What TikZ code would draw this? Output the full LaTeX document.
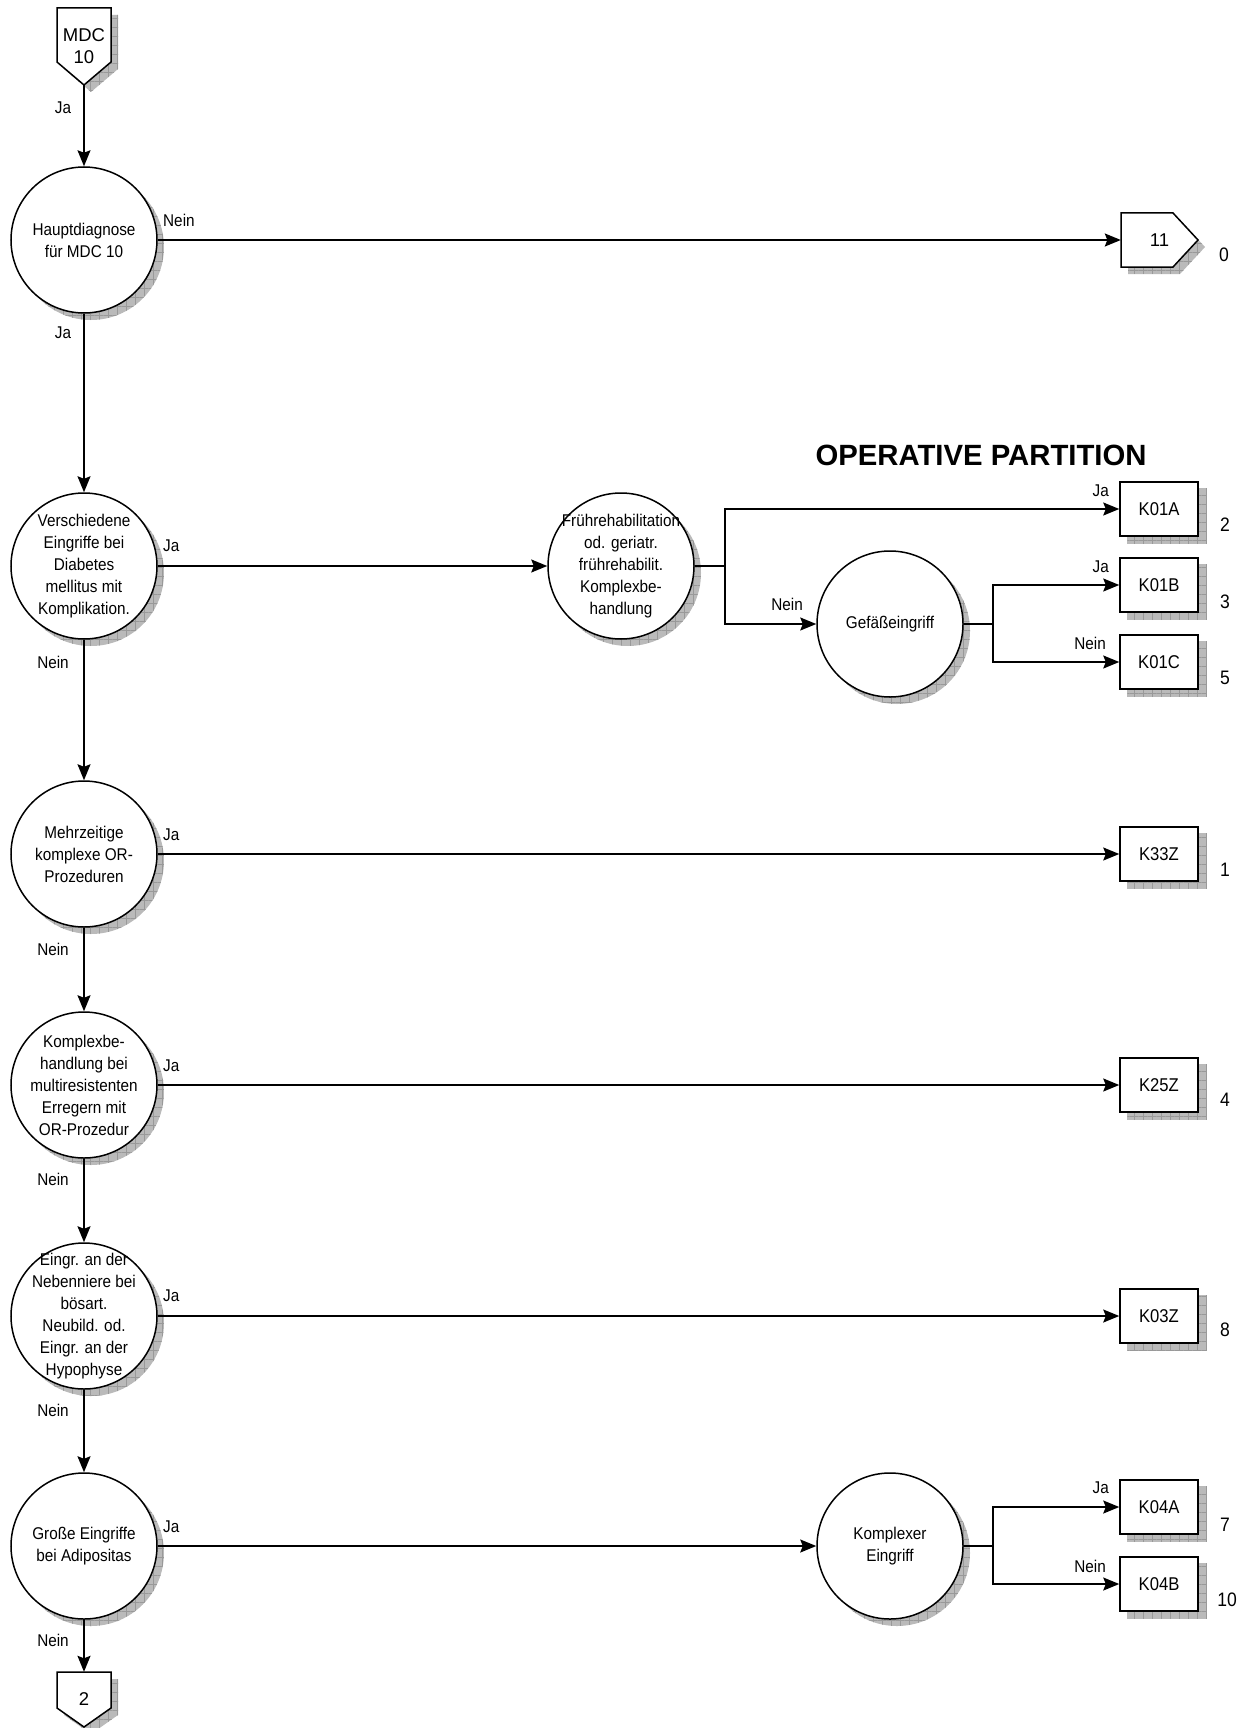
\documentclass[tikz,border=0pt]{standalone}
\usepackage{fontspec}
\setmainfont{Liberation Sans}[FakeStretch=0.9]
\newfontfamily\widefont{Liberation Sans}
\usetikzlibrary{arrows.meta,patterns.meta,backgrounds}
\begin{document}
\begin{tikzpicture}[x=1pt,y=-1pt,
  dec/.style={circle, draw, line width=1.5pt, fill=white, minimum size=146pt, inner sep=0pt},
  ctext/.style={align=center, font=\fontsize{17}{22}\selectfont, inner sep=0pt},
  leaf/.style={rectangle, draw, line width=1.5pt, fill=white, minimum width=78pt, minimum height=54pt, inner sep=0pt, font=\fontsize{18.5}{22}\selectfont},
  ptext/.style={align=center, inner sep=0pt, font=\widefont\fontsize{18.5}{22}\selectfont},
  pent/.style={draw, line width=1.5pt, fill=white, line join=miter},
  lbl/.style={font=\fontsize{17}{20}\selectfont, inner sep=0pt},
  num/.style={font=\fontsize{19.5}{22}\selectfont, inner sep=0pt},
  conn/.style={line width=1.6pt, -{Stealth[length=16pt,width=13pt,inset=2.5pt]}},
  plain/.style={line width=1.6pt},
  shad/.style={fill=black!27, postaction={pattern={Hatch[distance=9pt,angle=0,line width=0.6pt]}, pattern color=black!40}},
]
\useasboundingbox (0,0) rectangle (1250,1728);

% ---------- pentagon shapes (off-page connectors)
\draw[pent] (57,8) -- (111,8) -- (111,62) -- (84,85) -- (57,62) -- cycle;
\node[ptext, minimum width=54pt, minimum height=77pt] (mdc) at (84,46.5) {MDC\\10};

\draw[pent] (1121,213) -- (1173,213) -- (1198,240) -- (1173,267) -- (1121,267) -- cycle;
\node[ptext, minimum width=77pt, minimum height=54pt] (p11) at (1159.5,240) {11};

\draw[pent] (57,1672) -- (111,1672) -- (111,1708) -- (84,1727) -- (57,1708) -- cycle;
\node[ptext, minimum width=54pt, minimum height=55pt] (p2) at (84,1699.5) {2};

% ---------- decision circles
\node[dec] (c1) at (84,240) {};
\node[ctext] (c1t) at (c1) {Hauptdiagnose\\für MDC 10};
\node[dec] (c2) at (84,566) {};
\node[ctext] (c2t) at (c2) {Verschiedene\\Eingriffe bei\\Diabetes\\mellitus mit\\Komplikation.};
\node[dec] (c3) at (84,854) {};
\node[ctext] (c3t) at (c3) {Mehrzeitige\\komplexe OR-\\Prozeduren};
\node[dec] (c4) at (84,1085) {};
\node[ctext] (c4t) at (c4) {Komplexbe-\\handlung bei\\multiresistenten\\Erregern mit\\OR-Prozedur};
\node[dec] (c5) at (84,1316) {};
\node[ctext] (c5t) at (c5) {Eingr. an der\\Nebenniere bei\\bösart.\\Neubild. od.\\Eingr. an der\\Hypophyse};
\node[dec] (c6) at (84,1546) {};
\node[ctext] (c6t) at (c6) {Große Eingriffe\\bei Adipositas};
\node[dec] (fr) at (621,566) {};
\node[ctext] (frt) at (fr) {Frührehabilitation\\od. geriatr.\\frührehabilit.\\Komplexbe-\\handlung};
\node[dec] (gf) at (890,624) {};
\node[ctext] (gft) at (gf) {Gefäßeingriff};
\node[dec] (ke) at (890,1546) {};
\node[ctext] (ket) at (ke) {Komplexer\\Eingriff};

% ---------- leaves
\node[leaf] (k01a) at (1159,509) {K01A};
\node[leaf] (k01b) at (1159,585) {K01B};
\node[leaf] (k01c) at (1159,662) {K01C};
\node[leaf] (k33z) at (1159,854) {K33Z};
\node[leaf] (k25z) at (1159,1085) {K25Z};
\node[leaf] (k03z) at (1159,1316) {K03Z};
\node[leaf] (k04a) at (1159,1507) {K04A};
\node[leaf] (k04b) at (1159,1584) {K04B};

% ---------- shadows
\begin{scope}[on background layer]
  \foreach \n in {c1,c2,c3,c4,c5,c6,fr,gf,ke}
    \fill[shad] ([shift={(7pt,-7pt)}]\n.center) circle[radius=73pt];
  \foreach \n in {k01a,k01b,k01c,k33z,k25z,k03z,k04a,k04b}
    \fill[shad] ([shift={(8pt,-7pt)}]\n.south west) rectangle ([shift={(8pt,-7pt)}]\n.north east);
  \fill[shad, shift={(7pt,-7pt)}] (57,8) -- (111,8) -- (111,62) -- (84,85) -- (57,62) -- cycle;
  \fill[shad, shift={(7pt,-7pt)}] (1121,213) -- (1173,213) -- (1198,240) -- (1173,267) -- (1121,267) -- cycle;
  \fill[shad, shift={(7pt,-7pt)}] (57,1672) -- (111,1672) -- (111,1708) -- (84,1727) -- (57,1708) -- cycle;
\end{scope}

% ---------- title
\node[font=\widefont\bfseries\fontsize{29.3}{31}\selectfont, inner sep=0pt] (title) at (981,455) {OPERATIVE PARTITION};

% ---------- connectors
\draw[conn] (mdc.south) -- (c1.north);
\draw[conn] (c1.east) -- (p11.west);
\draw[conn] (c1.south) -- (c2.north);
\draw[conn] (c2.east) -- (fr.west);
\coordinate (b1) at (725,566);
\draw[plain] (fr.east) -- (b1);
\draw[conn] (b1) |- (k01a.west);
\draw[conn] (b1) |- (gf.west);
\coordinate (b2) at (993,624);
\draw[plain] (gf.east) -- (b2);
\draw[conn] (b2) |- (k01b.west);
\draw[conn] (b2) |- (k01c.west);
\draw[conn] (c2.south) -- (c3.north);
\draw[conn] (c3.east) -- (k33z.west);
\draw[conn] (c3.south) -- (c4.north);
\draw[conn] (c4.east) -- (k25z.west);
\draw[conn] (c4.south) -- (c5.north);
\draw[conn] (c5.east) -- (k03z.west);
\draw[conn] (c5.south) -- (c6.north);
\draw[conn] (c6.east) -- (ke.west);
\coordinate (b3) at (993,1546);
\draw[plain] (ke.east) -- (b3);
\draw[conn] (b3) |- (k04a.west);
\draw[conn] (b3) |- (k04b.west);
\draw[conn] (c6.south) -- (p2.north);

% ---------- edge labels
\node[lbl] (l1) at (63,108) {Ja};
\node[lbl, anchor=west] (l2) at (163,220) {Nein};
\node[lbl] (l3) at (63,333) {Ja};
\node[lbl, anchor=west] (l4) at (163,546) {Ja};
\node[lbl, anchor=east] (l5) at (1109,491) {Ja};
\node[lbl, anchor=east] (l6) at (803,604) {Nein};
\node[lbl, anchor=east] (l7) at (1109,567) {Ja};
\node[lbl, anchor=east] (l8) at (1106,643) {Nein};
\node[lbl] (l9) at (53,662) {Nein};
\node[lbl, anchor=west] (l10) at (163,835) {Ja};
\node[lbl] (l11) at (53,949) {Nein};
\node[lbl, anchor=west] (l12) at (163,1066) {Ja};
\node[lbl] (l13) at (53,1179) {Nein};
\node[lbl, anchor=west] (l14) at (163,1296) {Ja};
\node[lbl] (l15) at (53,1410) {Nein};
\node[lbl, anchor=west] (l16) at (163,1527) {Ja};
\node[lbl, anchor=east] (l17) at (1109,1488) {Ja};
\node[lbl, anchor=east] (l18) at (1106,1566) {Nein};
\node[lbl] (l19) at (53,1640) {Nein};

% ---------- numbers
\node[num] (n0) at (1224,255) {0};
\node[num] (n2) at (1225,525) {2};
\node[num] (n3) at (1225,602) {3};
\node[num] (n5) at (1225,678) {5};
\node[num] (n1) at (1225,870) {1};
\node[num] (n4) at (1225,1100) {4};
\node[num] (n8) at (1225,1330) {8};
\node[num] (n7) at (1225,1525) {7};
\node[num] (n10) at (1227,1600) {10};
\end{tikzpicture}
\end{document}
